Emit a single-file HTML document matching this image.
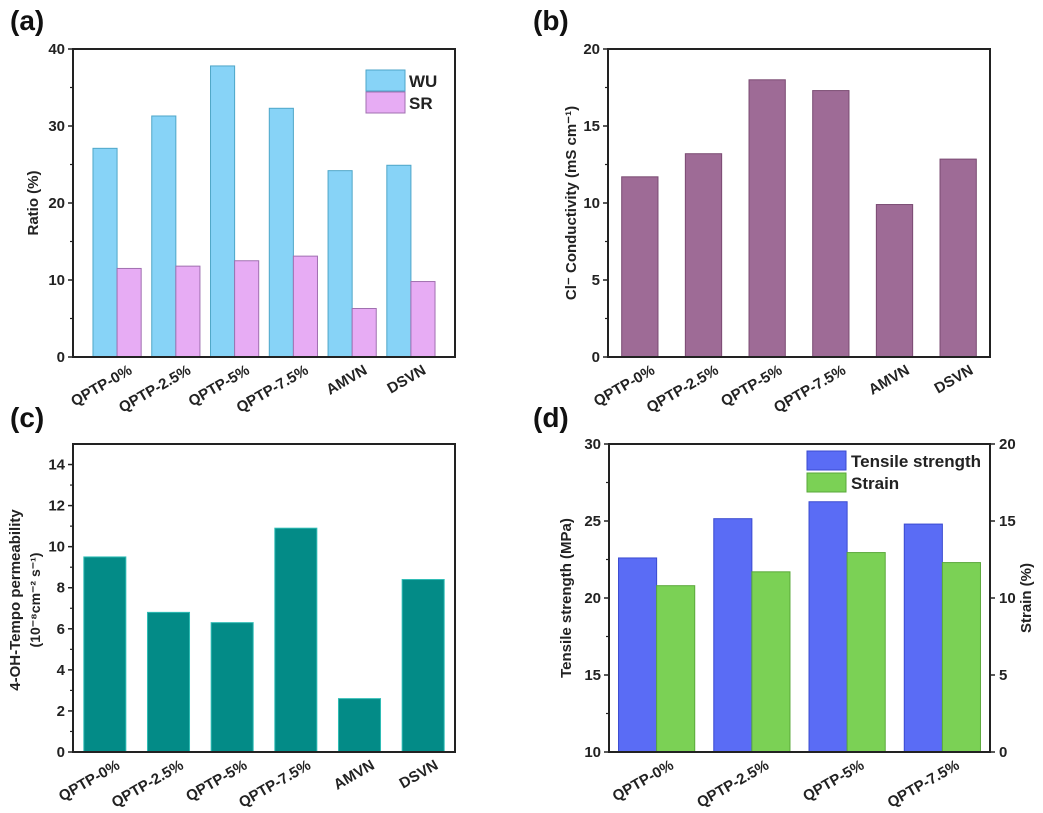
<!DOCTYPE html>
<html><head><meta charset="utf-8"><style>
html,body{margin:0;padding:0;background:#fff;}
svg{display:block;font-family:"Liberation Sans",Arial,sans-serif;font-weight:bold;}
</style></head><body>
<svg id="fig" width="1043" height="813" viewBox="0 0 1043 813" xmlns="http://www.w3.org/2000/svg"></svg>
<script>
const catsA = ["QPTP-0%","QPTP-2.5%","QPTP-5%","QPTP-7.5%","AMVN","DSVN"];
const wuVals = [27.1,31.3,37.8,32.3,24.2,24.9];
const srVals = [11.5,11.8,12.5,13.1,6.3,9.8];
const ticksA = [0,10,20,30,40];
const condVals = [11.7,13.2,18.0,17.3,9.9,12.85];
const ticksB = [0,5,10,15,20];
const permVals = [9.5,6.8,6.3,10.9,2.6,8.4];
const ticksC = [0,2,4,6,8,10,12,14];
const catsD = ["QPTP-0%","QPTP-2.5%","QPTP-5%","QPTP-7.5%"];
const tsVals = [22.6,25.15,26.25,24.8];
const strainVals = [10.8,11.7,12.95,12.3];
const ticksD = [10,15,20,25,30];
const ticksD2 = [0,5,10,15,20];

const svg=document.getElementById('fig');
const NS="http://www.w3.org/2000/svg";
function mk(tag,attrs,parent){const e=document.createElementNS(NS,tag);for(const k in attrs)e.setAttribute(k,attrs[k]);(parent||svg).appendChild(e);return e;}
function txt(s,attrs,parent){const e=mk('text',attrs,parent);e.textContent=s;return e;}

function panel(o){
  const g=mk('g',{});
  
  
  const {L,R,T,B,ymin,ymax}=o;
  const y=v=>B-(v-ymin)/(ymax-ymin)*(B-T);
  const sp=(R-L)/o.slots;
  const cx=i=>L+(i+o.off)*sp;
  o.series.forEach((s,si)=>{
    s.vals.forEach((v,i)=>{
      const yy=s.y?s.y(v):y(v);
      const x0=cx(i)+s.dx*sp;
      const r=mk('rect',{x:x0,y:yy,width:s.w*sp,height:B-yy,fill:s.fill,stroke:s.stroke,'stroke-width':1},g);
      
      
    });
  });
  const f=mk('rect',{x:L,y:T,width:R-L,height:B-T,fill:'none',stroke:'#222','stroke-width':2},g);
  
  
  o.ticks.forEach((t,k)=>{
    const yy=y(t);
    mk('line',{x1:L-5,x2:L,y1:yy,y2:yy,stroke:'#222','stroke-width':1.5},g);
    const tl=txt(String(t),{x:L-8,y:yy+5,'text-anchor':'end','font-size':15,fill:'#222'},g);
    
    
    if(k<o.ticks.length-1){const ym=y((t+o.ticks[k+1])/2);mk('line',{x1:L-3,x2:L,y1:ym,y2:ym,stroke:'#222','stroke-width':1.2},g);}
  });
  if(o.ticks2){
    o.ticks2.forEach((t,k)=>{
      const yy=o.y2(t);
      mk('line',{x1:R,x2:R+5,y1:yy,y2:yy,stroke:'#222','stroke-width':1.5},g);
      const tl=txt(String(t),{x:R+9,y:yy+5,'text-anchor':'start','font-size':15,fill:'#222'},g);
      
      
    });
  }
  o.cats.forEach((c,i)=>{
    const x=cx(i)+o.lblDx, yy=B+16;
    const tl=txt(c,{x:x,y:yy,'text-anchor':'end','font-size':15,fill:'#222',transform:`rotate(-30 ${x} ${yy})`},g);
    
    
  });
  const pl=txt(o.label,{x:o.lx,y:o.ly,'font-size':28,fill:'#111'},g);
  
  
  return {g,y};
}

const pa=panel({name:'panel-a',L:73,R:455,T:49,B:357,ymin:0,ymax:40,cats:catsA,slots:6.5,off:0.75,lblDx:16,
  series:[{key:'wu',vals:wuVals,dx:-0.41,w:0.41,fill:'#87d3f7',stroke:'#4ea6c8'},{key:'sr',vals:srVals,dx:0,w:0.41,fill:'#e7acf4',stroke:'#a070b0'}],
  ticks:ticksA,label:'(a)',lx:10,ly:30});
let t=txt('Ratio (%)',{x:0,y:0,'font-size':15,fill:'#222','text-anchor':'middle',transform:'translate(38 203) rotate(-90)'},pa.g);

[['WU','#87d3f7','#4ea6c8',70],['SR','#e7acf4','#a070b0',92]].forEach(([n,f,s,yy])=>{
  const r=mk('rect',{x:366,y:yy,width:39,height:21,fill:f,stroke:s},pa.g);
  
  const l=txt(n,{x:409,y:yy+17,'font-size':17,fill:'#222'},pa.g);
  
});

const pb=panel({name:'panel-b',L:608,R:990,T:49,B:357,ymin:0,ymax:20,cats:catsA,slots:6,off:0.5,lblDx:16,
  series:[{key:'conductivity',vals:condVals,dx:-0.285,w:0.57,fill:'#9e6b96',stroke:'#7a4a72'}],
  ticks:ticksB,label:'(b)',lx:533,ly:30});
t=txt('Cl\u207B Conductivity (mS cm\u207B\u00B9)',{x:0,y:0,'font-size':15,fill:'#222','text-anchor':'middle',transform:'translate(576 203) rotate(-90)'},pb.g);


const pc=panel({name:'panel-c',L:73,R:455,T:444,B:752,ymin:0,ymax:15,cats:catsA,slots:6,off:0.5,lblDx:16,
  series:[{key:'permeability',vals:permVals,dx:-0.33,w:0.66,fill:'#038b87',stroke:'#2fbcb5'}],
  ticks:ticksC,label:'(c)',lx:10,ly:427});
t=txt('4-OH-Tempo permeability',{x:0,y:0,'font-size':15,fill:'#222','text-anchor':'middle',transform:'translate(20 600) rotate(-90)'},pc.g);

t=txt('(10\u207B\u2078cm\u207B\u00B2 s\u207B\u00B9)',{x:0,y:0,'font-size':14,fill:'#222','text-anchor':'middle',transform:'translate(40 600) rotate(-90)'},pc.g);


const y2=v=>752-(v-0)/20*(752-444);
const pd=panel({name:'panel-d',L:609,R:990,T:444,B:752,ymin:10,ymax:30,cats:catsD,slots:4,off:0.5,lblDx:18,
  series:[{key:'tensile',vals:tsVals,dx:-0.4,w:0.4,fill:'#5a6cf5',stroke:'#3a4ad0'},{key:'strain',vals:strainVals,dx:0,w:0.4,fill:'#7bd155',stroke:'#5aa83a',y:y2}],
  ticks:ticksD,ticks2:ticksD2,y2:y2,label:'(d)',lx:533,ly:427});
t=txt('Tensile strength (MPa)',{x:0,y:0,'font-size':15,fill:'#222','text-anchor':'middle',transform:'translate(571 598) rotate(-90)'},pd.g);

t=txt('Strain (%)',{x:0,y:0,'font-size':15,fill:'#222','text-anchor':'middle',transform:'translate(1031 598) rotate(-90)'},pd.g);

[['Tensile strength','#5a6cf5','#3a4ad0',451],['Strain','#7bd155','#5aa83a',473]].forEach(([n,f,s,yy])=>{
  const r=mk('rect',{x:807,y:yy,width:39,height:19,fill:f,stroke:s},pd.g);
  
  const l=txt(n,{x:851,y:yy+16,'font-size':17,fill:'#222'},pd.g);
  
});
</script>
</body></html>
